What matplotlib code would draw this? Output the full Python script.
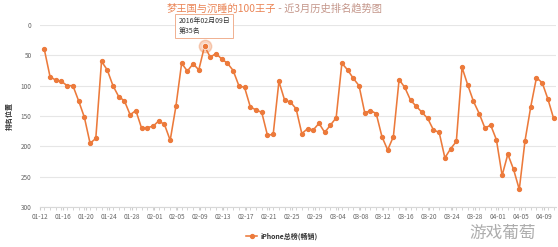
import matplotlib
matplotlib.use("Agg")
import matplotlib.pyplot as plt
import matplotlib.dates as mdates
import pandas as pd

plt.rcParams['font.family'] = ['Noto Sans CJK SC', 'DejaVu Sans']

# daily rank of the app on the iPhone top-grossing chart
start_day = '2016-01-12'
ranks = [40, 85, 91, 93, 100, 100, 125, 152, 195, 187,
         60, 74, 100, 118, 125, 148, 141, 170, 169, 167,
         158, 164, 190, 134, 63, 76, 64, 74, 35, 53,
         47, 56, 63, 75, 100, 103, 135, 140, 144, 182,
         180, 93, 124, 127, 138, 179, 171, 173, 162, 177,
         165, 153, 63, 74, 88, 100, 145, 141, 146, 184,
         206, 184, 90, 103, 124, 134, 144, 154, 173, 177,
         219, 204, 192, 70, 99, 126, 146, 170, 165, 189,
         248, 213, 238, 271, 191, 135, 87, 95, 122, 154]
days = pd.date_range(start_day, periods=len(ranks), freq='D')
highlight_day = '2016-02-09'
y_ticks = [0, 50, 100, 150, 200, 250, 300]

series_name = 'iPhone总榜(畅销)'
title_a = '梦王国与沉睡的100王子'
title_b = ' - 近3月历史排名趋势图'

orange = '#ec7a3b'

fig = plt.figure(figsize=(5.58, 2.47), dpi=100)
ax = fig.add_axes([40 / 558, 1 - 207 / 247, 516 / 558, 182 / 247])

ax.plot(days, ranks, color=orange, lw=1.15, marker='o', ms=2.8,
        label=series_name, zorder=3)

hi = days.get_loc(pd.Timestamp(highlight_day))
hx, hy = days[hi], ranks[hi]
ax.plot([hx], [hy], 'o', color=orange, ms=9, alpha=0.3, zorder=4)
ax.plot([hx], [hy], 'o', color=orange, ms=4.5, zorder=5,
        markeredgecolor='white', markeredgewidth=0.5)
ax.annotate('%s\n第%d名' % (pd.Timestamp(highlight_day).strftime('%Y年%m月%d日'), hy),
            xy=(hx, hy), xytext=(-26, 11), textcoords='offset pixels',
            ha='left', va='bottom', fontsize=5, color='#333333', linespacing=1.3,
            bbox=dict(boxstyle='square,pad=0.45', fc='white', ec='#f0b090', lw=0.7),
            zorder=6)

ax.set_ylim(300, 0)
ax.set_yticks(y_ticks)
ax.set_xlim(days[0] - pd.Timedelta(hours=7), days[-1] + pd.Timedelta(hours=10))

tick_days = days[::4]
ax.set_xticks([d - pd.Timedelta(hours=18) for d in tick_days])
ax.set_xticklabels([d.strftime('%m-%d') for d in tick_days])
ax.xaxis.set_minor_locator(mdates.DayLocator())

ax.grid(axis='y', color='#e6e6e6', lw=0.8)
ax.set_axisbelow(True)
for s in ['top', 'right', 'left']:
    ax.spines[s].set_visible(False)
ax.spines['bottom'].set_color('#d8d8d8')
ax.spines['bottom'].set_linewidth(0.8)
ax.tick_params(axis='y', length=0, labelsize=4.6, labelcolor='#666666', pad=6)
ax.tick_params(axis='x', which='both', length=2, color='#cccccc', labelsize=4.6,
               labelcolor='#666666', pad=2)
ax.set_ylabel('排名位置', fontsize=5, color='#333333', fontweight='bold', labelpad=6)

fig.text(276 / 558, 1 - 9 / 247, title_a, ha='right', va='center',
         fontsize=7.4, color='#ea8455')
fig.text(276 / 558, 1 - 9 / 247, title_b, ha='left', va='center',
         fontsize=7.4, color='#c4968a')

leg = fig.legend(loc='center', bbox_to_anchor=(0.505, 1 - 236 / 247), frameon=False,
                 fontsize=5, handlelength=1.6, handletextpad=0.4)
for t in leg.get_texts():
    t.set_color('#333333')
    t.set_fontweight('bold')

fig.text(503 / 558, 1 - 233 / 247, '游戏葡萄', ha='center', va='center',
         fontsize=12, color='#999999', alpha=0.8)

fig.savefig('out.png', dpi=100)
